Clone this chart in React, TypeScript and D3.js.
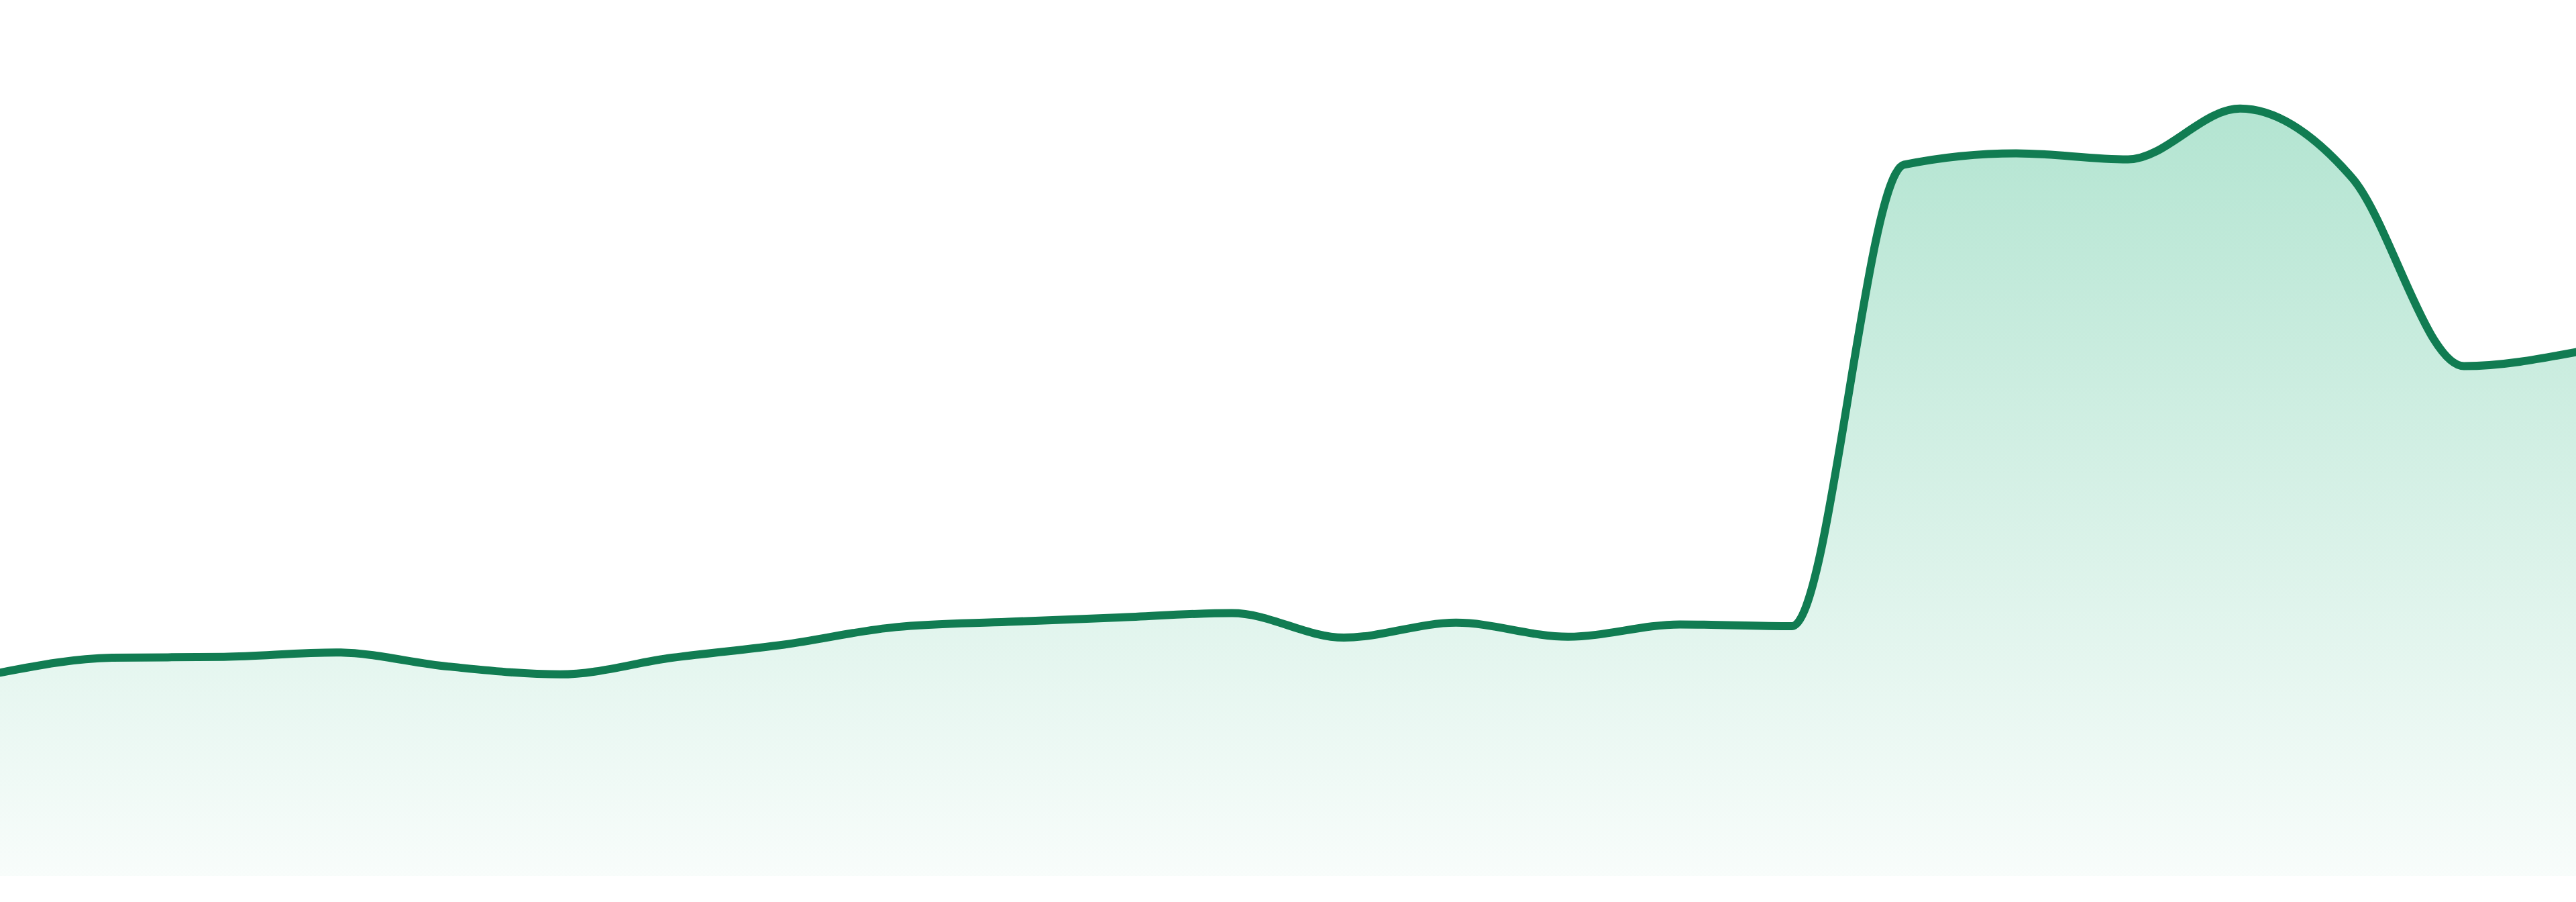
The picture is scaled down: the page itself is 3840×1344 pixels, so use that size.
import React from 'react';
import * as d3 from 'd3';

// one value per period
const periods = d3.range(24);
const values = [
  23.2, 24.9, 25.0, 25.5, 23.9, 23.0, 24.9, 26.4, 28.4, 29.0, 29.5, 30.0,
  27.2, 28.9, 27.3, 28.7, 28.5, 81.2, 82.5, 81.8, 87.6, 79.7, 58.2, 59.8,
];

const width = 3840;
const height = 1344;
const baseline = 1305;

const App: React.FC = () => {
  const x = d3.scaleLinear().domain([0, periods.length - 1]).range([0, width]);
  const y = d3.scaleLinear().domain([0, 100]).range([baseline, 0]);

  const data = periods.map((p, i) => ({ p, v: values[i] }));

  const line = d3.line<{ p: number; v: number }>()
    .x(d => x(d.p))
    .y(d => y(d.v))
    .curve(d3.curveMonotoneX);

  const area = d3.area<{ p: number; v: number }>()
    .x(d => x(d.p))
    .y0(y(0))
    .y1(d => y(d.v))
    .curve(d3.curveMonotoneX);

  const top = y(d3.max(values) as number);

  return (
    <svg
      width={width}
      height={height}
      style={{ position: 'absolute', left: 0, top: 0, display: 'block' }}
    >
      <defs>
        <linearGradient id="fillGrad" gradientUnits="userSpaceOnUse" x1="0" x2="0" y1={top} y2={baseline}>
          <stop offset="0" stopColor="#12ac70" stopOpacity={0.32} />
          <stop offset="1" stopColor="#12ac70" stopOpacity={0.03} />
        </linearGradient>
      </defs>
      <rect width={width} height={height} fill="#ffffff" />
      <path d={area(data) ?? ''} fill="url(#fillGrad)" />
      <path
        d={line(data) ?? ''}
        fill="none"
        stroke="#117c52"
        strokeWidth={12}
        strokeLinejoin="round"
        strokeLinecap="round"
      />
    </svg>
  );
};

export default App;
